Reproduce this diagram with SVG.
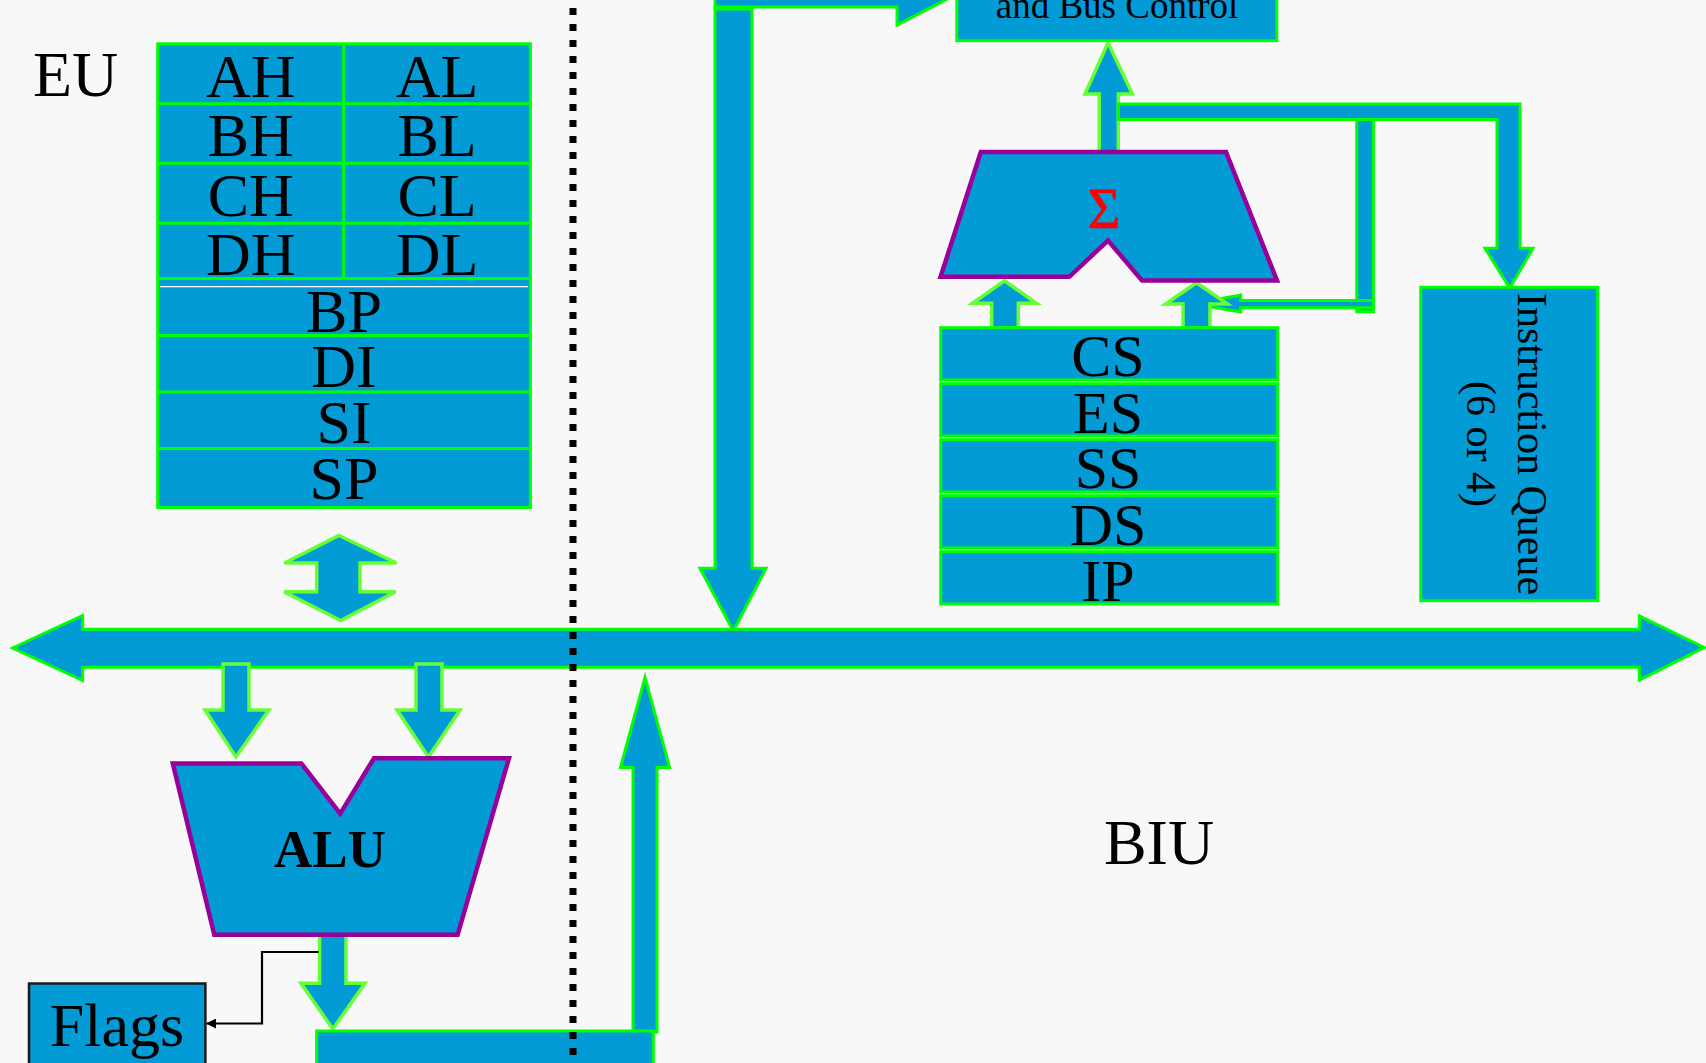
<svg xmlns="http://www.w3.org/2000/svg" width="1706" height="1063" viewBox="0 0 1706 1063">
<style>
  .t{font-family:"Liberation Serif","Times New Roman",serif;fill:#000;}
  .reg{font-size:62px;text-anchor:middle;}
  .blk{fill:#029BD6;stroke:#00FF00;stroke-width:3;}
  .arr{fill:#029BD6;stroke:#00FF00;stroke-width:3;stroke-linejoin:miter;}
  .sarr{fill:#029BD6;stroke:#66FF33;stroke-width:3.5;stroke-linejoin:miter;}
  .unit{fill:#029BD6;stroke:#990099;stroke-width:4.5;stroke-linejoin:miter;}
  .gl{stroke:#00FF00;stroke-width:3;fill:none;}
</style>
<defs>
  <marker id="ah" markerWidth="10" markerHeight="10" refX="9" refY="5" orient="auto" markerUnits="userSpaceOnUse" viewBox="0 0 10 10">
    <path d="M0,0 L10,5 L0,10 Z" fill="#000"/>
  </marker>
</defs>
<rect x="0" y="0" width="1706" height="1063" fill="#F8F8F8"/>

<g id="connectors">
  <polygon class="arr" points="715,-20 897,-20 897,-37 957,-6 897,25 897,7 715,7"/>
  <polygon class="arr" points="715,9 752,9 752,568.3 766,568.3 733.3,631 700,568.3 715,568.3"/>
  <polygon class="arr" points="12.5,648 82.6,615.5 82.6,629.3 1639.3,629.3 1639.3,616 1704,647.5 1639.3,680 1639.3,667.3 82.6,667.3 82.6,680.5"/>
  <polygon class="sarr" points="339,535.5 396.5,563 360,563 360,591.7 395.5,591.7 340.7,620.5 284,591.7 316.7,591.7 316.7,563 284.5,563"/>
  <polygon class="sarr" points="223,664 249,664 249,710 268.8,710 235.9,757 205,710 223,710"/>
  <polygon class="sarr" points="416,664 442,664 442,710 460,710 428.5,757 397,710 416,710"/>
  <polygon class="sarr" points="319.6,935 346,935 346,983.3 365,983.3 332.8,1029 301,983.3 319.6,983.3"/>
  <polyline points="318.5,952 262,952 262,1023.5 207,1023.5" fill="none" stroke="#000" stroke-width="2.2" marker-end="url(#ah)"/>
  <polygon class="arr" points="633,1032 633,767.6 620.5,767.6 645,677.5 669.6,767.6 657,767.6 657,1032"/>
  <polygon class="sarr" points="1099.3,152 1099.3,94 1085,94 1108,42.7 1132.4,94 1118.3,94 1118.3,152"/>
  <polygon class="arr" points="1118.3,104 1520,104 1520,248.3 1533,248.3 1509.7,288 1485,248.3 1497,248.3 1497,119.5 1118.3,119.5"/>
  <rect class="arr" x="1356.7" y="119.5" width="16.7" height="192.2"/>
  <polygon class="arr" stroke-width="2.5" points="1373.4,300.5 1240.7,300.5 1240.7,295 1192.3,303.7 1240.7,312 1240.7,307.8 1373.4,307.8"/>
  <polygon class="sarr" points="991.7,328.3 991.7,303.3 972.5,303.3 1004.5,280.7 1036.5,303.3 1018.3,303.3 1018.3,328.3"/>
  <polygon class="sarr" points="1183,328.3 1183,304 1165.5,304 1196.5,282.7 1227.5,304 1210,304 1210,328.3"/>
</g>

<g id="eu-label">
  <text class="t" x="33" y="95.5" font-size="64">EU</text>
</g>

<g id="general-registers">
  <rect class="blk" x="157.7" y="43.8" width="372.7" height="463.7"/>
  <path class="gl" d="M157.7,103.8H530.4M157.7,163.2H530.4M157.7,223.2H530.4M157.7,278.6H530.4M157.7,335.6H530.4M157.7,392H530.4M157.7,448.4H530.4M343.7,43.8V278.6"/>
  <line x1="160" y1="286.6" x2="528" y2="286.6" stroke="#FFFFFF" stroke-width="1.2"/>
  <g class="t reg">
    <text x="250.7" y="97">AH</text>
    <text x="437" y="97">AL</text>
    <text x="250.7" y="156">BH</text>
    <text x="437" y="156">BL</text>
    <text x="250.7" y="216">CH</text>
    <text x="437" y="216">CL</text>
    <text x="250.7" y="275">DH</text>
    <text x="437" y="275">DL</text>
    <text x="344" y="331.7">BP</text>
    <text x="344" y="387.4">DI</text>
    <text x="344" y="443.4">SI</text>
    <text x="344" y="499">SP</text>
  </g>
</g>

<g id="alu">
  <polygon class="unit" points="172.8,763.4 301.3,763.4 340.2,813.6 374,758.2 509,758.2 457.6,934.8 214.3,934.8"/>
  <text class="t" x="330" y="867" font-size="53" font-weight="bold" text-anchor="middle">ALU</text>
</g>

<g id="flags">
  <rect x="29" y="983.5" width="176.4" height="100" fill="#029BD6" stroke="#1A1A1A" stroke-width="2.5"/>
  <text class="t" x="117" y="1046" font-size="62" text-anchor="middle">Flags</text>
</g>

<g id="bottom-unit">
  <rect class="blk" x="316.6" y="1031" width="336.7" height="60"/>
</g>

<g id="bus-control">
  <rect class="blk" x="956.8" y="-40" width="320" height="80.7"/>
  <text class="t" x="1117" y="18" font-size="37" text-anchor="middle">and Bus Control</text>
</g>

<g id="adder">
  <polygon class="unit" points="980.8,152 1226,152 1277,280.5 1142,280.5 1108,240.5 1069.3,276.8 940.6,276.8"/>
  <text x="1104" y="228" font-family="Liberation Serif, Times New Roman, serif" font-size="56" fill="#FF0000" stroke="#FF0000" stroke-width="0.8" text-anchor="middle">Σ</text>
</g>

<g id="segment-registers">
  <rect class="blk" x="940.7" y="327.7" width="337" height="52.3" stroke-width="2.5"/>
  <rect class="blk" x="940.7" y="383.7" width="337" height="52.3" stroke-width="2.5"/>
  <rect class="blk" x="940.7" y="439.7" width="337" height="52.3" stroke-width="2.5"/>
  <rect class="blk" x="940.7" y="495.7" width="337" height="52.3" stroke-width="2.5"/>
  <rect class="blk" x="940.7" y="551.7" width="337" height="52.3" stroke-width="2.5"/>
  <g class="t" font-size="60" text-anchor="middle">
    <text x="1108" y="376">CS</text>
    <text x="1108" y="432.7">ES</text>
    <text x="1108" y="488.3">SS</text>
    <text x="1108" y="545">DS</text>
    <text x="1108" y="601">IP</text>
  </g>
</g>

<g id="instruction-queue">
  <rect class="blk" x="1420.7" y="287.3" width="177" height="313.4"/>
  <g transform="translate(1518,444) rotate(90)">
    <text class="t" x="0" y="0" font-size="42" text-anchor="middle">Instruction Queue</text>
    <text class="t" x="0" y="51" font-size="42" text-anchor="middle">(6 or 4)</text>
  </g>
</g>

<g id="biu-label">
  <text class="t" x="1159" y="864" font-size="64" text-anchor="middle">BIU</text>
</g>

<g id="divider">
  <line x1="573" y1="8" x2="573" y2="1063" stroke="#000" stroke-width="7" stroke-dasharray="7 9"/>
</g>
</svg>
